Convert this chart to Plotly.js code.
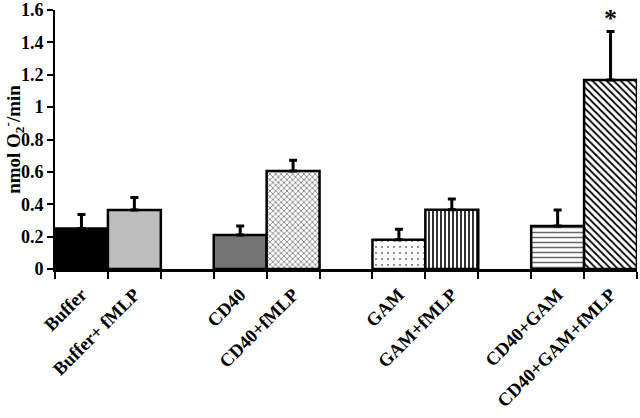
<!DOCTYPE html>
<html><head><meta charset="utf-8">
<script src="https://cdn.plot.ly/plotly-3.0.1.min.js"></script>
<style>html,body{margin:0;padding:0;background:#fff}#c{width:640px;height:418px}</style>
</head><body><div id="c"></div>
<script>
const categories = ["Buffer","Buffer+ fMLP"," ","CD40","CD40+fMLP","  ","GAM","GAM+fMLP","   ","CD40+GAM","CD40+GAM+fMLP"];
const values = [0.25, 0.365, null, 0.21, 0.605, null, 0.18, 0.366, null, 0.265, 1.167];
const errors = [0.087, 0.076, null, 0.056, 0.067, null, 0.066, 0.066, null, 0.099, 0.30];
const fillColors = ["#000000","#bdbdbd","#ffffff","#737373","#ffffff","#ffffff","#ffffff","#ffffff","#ffffff","#ffffff","#ffffff"];
const patternShapes = ["","","","","x","",".","|","","-","\\"];
const patternSizes = [6,6,6,6,4,6,6,4,6,5,5];
const patternSolidity = [0.3,0.3,0.3,0.3,0.3,0.3,0.1,0.4,0.3,0.3,0.35];
const patternFg = ["#000","#000","#000","#000","#555","#000","#777","#000","#000","#666","#000"];
const starCategory = "CD40+GAM+fMLP";

const starIdx = categories.indexOf(starCategory);
const fam = "Liberation Serif, Times New Roman, serif";

const traces = categories.map((c,i)=>{
  const m = {color:fillColors[i], line:{color:"#000", width:2.5}};
  if (patternShapes[i]) m.pattern = {shape:patternShapes[i], size:patternSizes[i], solidity:patternSolidity[i], fgcolor:patternFg[i], bgcolor:fillColors[i], fillmode:"replace"};
  return {
    type:"bar", x:[c], y:[values[i]], marker:m,
    error_y:{type:"data", array:[errors[i]], arrayminus:[0], symmetric:false, color:"#000", thickness:3, width:4},
    hoverinfo:"none"
  };
});

const layout = {
  width:640, height:418,
  margin:{l:55, r:3, t:10, b:149},
  paper_bgcolor:"#fff", plot_bgcolor:"#fff",
  bargap:0, barmode:"overlay", showlegend:false,
  font:{family:fam, color:"#000"},
  xaxis:{type:"category", categoryorder:"array", categoryarray:categories, range:[-0.5, categories.length-0.5],
    tickson:"boundaries", ticks:"outside", ticklen:7, tickwidth:2, tickcolor:"#000",
    showline:true, linecolor:"#000", linewidth:2.5, showgrid:false, zeroline:false,
    tickangle:-45, ticklabelstandoff:5, tickfont:{family:fam, size:18.5, color:"#000", weight:700}},
  yaxis:{range:[0,1.6], dtick:0.2, ticks:"outside", ticklen:6, tickwidth:2, tickcolor:"#000",
    showline:true, linecolor:"#000", linewidth:2, showgrid:false, zeroline:false,
    tickfont:{family:fam, size:18, color:"#000", weight:700},
    title:{text:"nmol O<sub>2</sub><sup>-</sup>/min", standoff:3, font:{family:fam, size:19, color:"#000", weight:700}}},
  annotations:[{x:starCategory, y:values[starIdx]+errors[starIdx], xref:"x", yref:"y", text:"*", showarrow:false,
    yanchor:"bottom", yshift:-3, font:{family:fam, size:26, color:"#000", weight:700}}]
};
Plotly.newPlot("c",traces,layout,{staticPlot:true});
</script></body></html>
